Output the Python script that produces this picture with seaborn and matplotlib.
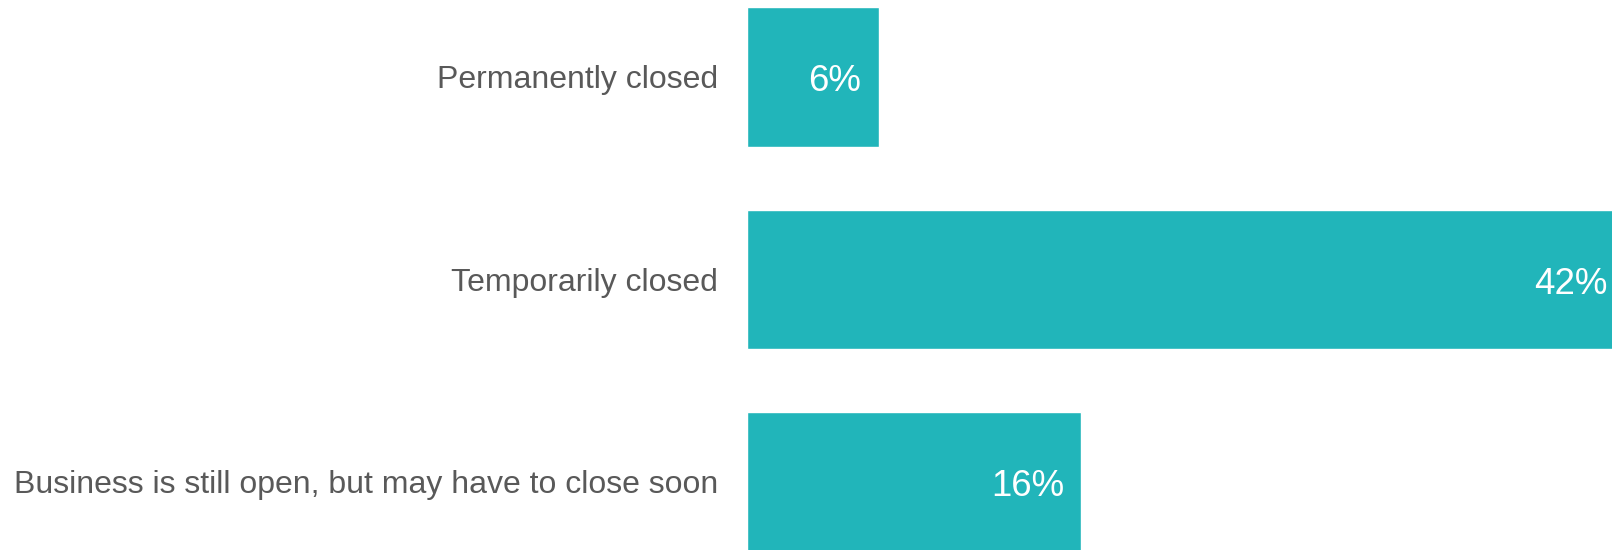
import matplotlib
matplotlib.use("Agg")
import matplotlib.pyplot as plt
import seaborn as sns
import pandas as pd

# data
categories = ["Permanently closed", "Temporarily closed",
              "Business is still open, but may have to close soon"]
shares = [6.3, 42.0, 16.0]
value_labels = ["6%", "42%", "16%"]

df = pd.DataFrame({"status": categories, "share": shares})

sns.set_style("white")
plt.rcParams["font.family"] = ["Liberation Sans", "DejaVu Sans"]

fig = plt.figure(figsize=(16.12, 5.5), dpi=100)
ax = fig.add_axes([747 / 1612, 0, 1 - 747 / 1612, 1])

sns.barplot(data=df, x="share", y="status", orient="h", color="#21B5BA",
            saturation=1, width=0.69, ax=ax)

# 42% bar runs a bit past the right edge in the original
ax.set_xlim(0, 42 * 865 / 878)
ax.set_ylim(2.336, -0.380)

for i, (v, lab) in enumerate(zip(shares, value_labels)):
    ax.annotate(lab, xy=(v, i), xytext=(-12.5, -3.5), textcoords="offset points",
                ha="right", va="center", color="white", fontsize=26.4,
                annotation_clip=False)

ax.set_xlabel("")
ax.set_ylabel("")
ax.set_xticks([])
ax.tick_params(axis="y", length=0, pad=21, labelsize=23, labelcolor="#595959")
sns.despine(ax=ax, left=True, bottom=True)

fig.savefig("out.png", dpi=100)
